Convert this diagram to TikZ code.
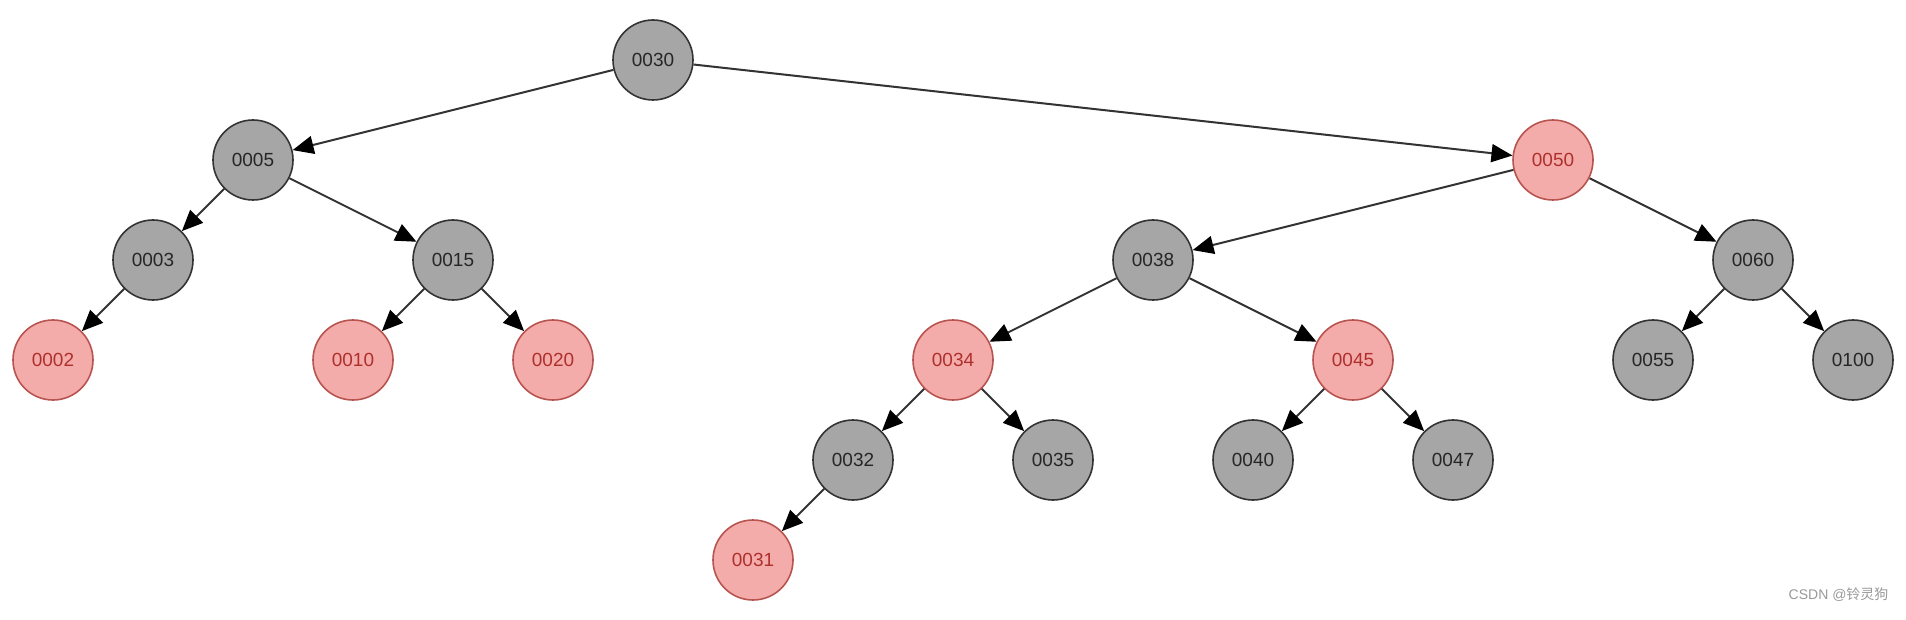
\documentclass[tikz,border=0pt]{standalone}
\usepackage{fontspec}
\setmainfont{Liberation Sans}
\newfontfamily\cjkfont{Noto Sans CJK SC}
\usetikzlibrary{arrows.meta}
\definecolor{grayfill}{HTML}{A6A6A6}
\definecolor{graydraw}{HTML}{333333}
\definecolor{redfill}{HTML}{F4ACAB}
\definecolor{reddraw}{HTML}{B85450}
\definecolor{redtext}{HTML}{AE302C}
\definecolor{edgecol}{HTML}{333333}
\tikzset{
  blk/.style={circle, draw=graydraw, fill=grayfill, line width=1.6pt, minimum size=80pt, inner sep=0pt, font=\fontsize{19}{19}\selectfont, text=black!85},
  rd/.style={circle, draw=reddraw, fill=redfill, line width=1.6pt, minimum size=80pt, inner sep=0pt, font=\fontsize{19}{19}\selectfont, text=redtext},
  edge/.style={draw=edgecol, line width=2pt, -{Triangle[length=21pt,width=18pt,color=black]}}
}
\begin{document}
\begin{tikzpicture}[x=1pt,y=-1pt]
\useasboundingbox (0,0) rectangle (1906,620);
\node[blk] (n30) at (653,60) {0030};
\node[blk] (n5) at (253,160) {0005};
\node[rd] (n50) at (1553,160) {0050};
\node[blk] (n3) at (153,260) {0003};
\node[blk] (n15) at (453,260) {0015};
\node[blk] (n38) at (1153,260) {0038};
\node[blk] (n60) at (1753,260) {0060};
\node[rd] (n2) at (53,360) {0002};
\node[rd] (n10) at (353,360) {0010};
\node[rd] (n20) at (553,360) {0020};
\node[rd] (n34) at (953,360) {0034};
\node[rd] (n45) at (1353,360) {0045};
\node[blk] (n55) at (1653,360) {0055};
\node[blk] (n100) at (1853,360) {0100};
\node[blk] (n32) at (853,460) {0032};
\node[blk] (n35) at (1053,460) {0035};
\node[blk] (n40) at (1253,460) {0040};
\node[blk] (n47) at (1453,460) {0047};
\node[rd] (n31) at (753,560) {0031};
\draw[edge] (n30) -- (n5);
\draw[edge] (n30) -- (n50);
\draw[edge] (n5) -- (n3);
\draw[edge] (n5) -- (n15);
\draw[edge] (n3) -- (n2);
\draw[edge] (n15) -- (n10);
\draw[edge] (n15) -- (n20);
\draw[edge] (n50) -- (n38);
\draw[edge] (n50) -- (n60);
\draw[edge] (n38) -- (n34);
\draw[edge] (n38) -- (n45);
\draw[edge] (n60) -- (n55);
\draw[edge] (n60) -- (n100);
\draw[edge] (n34) -- (n32);
\draw[edge] (n34) -- (n35);
\draw[edge] (n45) -- (n40);
\draw[edge] (n45) -- (n47);
\draw[edge] (n32) -- (n31);
\node[anchor=east, text=black!40, font=\fontsize{14}{14}\selectfont] (wm) at (1892,595) {CSDN @{\cjkfont 铃灵狗}};
\end{tikzpicture}
\end{document}
